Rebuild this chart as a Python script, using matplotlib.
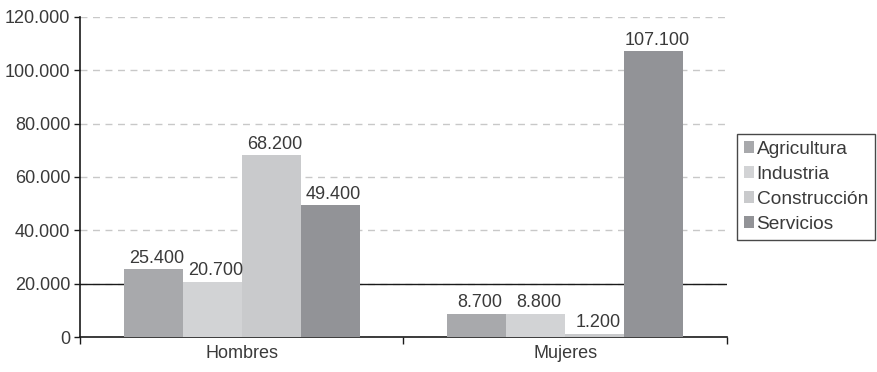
import matplotlib
matplotlib.use("Agg")
import matplotlib.pyplot as plt
import numpy as np

plt.rcParams["font.family"] = ["Liberation Sans", "DejaVu Sans"]

groups = ["Hombres", "Mujeres"]
sectors = ["Agricultura", "Industria", "Construcción", "Servicios"]
agricultura = [25400, 8700]
industria = [20700, 8800]
construccion = [68200, 1200]
servicios = [49400, 107100]
values = [agricultura, industria, construccion, servicios]
colors = ["#a8a9ac", "#d2d3d5", "#c9cacc", "#929397"]
yticks = [0, 20000, 40000, 60000, 80000, 100000, 120000]
ref_line = 20000

text_col = "#3a3a3a"


def fmt(v):
    return f"{v:,.0f}".replace(",", ".")


fig = plt.figure(figsize=(8.78, 3.72), dpi=100)
ax = fig.add_axes([80 / 878, 35 / 372, 647 / 878, 320 / 372])

x = np.arange(len(groups))
bw = 0.182
for i, (name, vals, c) in enumerate(zip(sectors, values, colors)):
    pos = x + (i - 1.5) * bw
    ax.bar(pos, vals, width=bw, color=c, label=name, zorder=3)
    for p, v in zip(pos, vals):
        ax.text(p + 0.01, v + 900, fmt(v), ha="center", va="bottom",
                fontsize=13, color=text_col, zorder=4)

ax.axhline(ref_line, color="#1a1a1a", lw=1.0, zorder=2)

ax.set_xlim(-0.5, 1.5)
ax.set_ylim(0, 120000)
ax.set_yticks(yticks)
ax.set_yticklabels([fmt(v) for v in yticks])
ax.yaxis.grid(True, ls=(0, (5, 4)), color="#c8c8c8", lw=1.0, zorder=0)
ax.set_axisbelow(True)

ax.set_xticks(x)
ax.set_xticklabels(groups)
ax.set_xticks([-0.5, 0.5, 1.5], minor=True)
ax.tick_params(axis="x", which="major", length=0, pad=6)
ax.tick_params(axis="x", which="minor", length=5, width=1, color="#1a1a1a")
ax.tick_params(axis="y", length=4, width=1, color="#1a1a1a", pad=3)
ax.tick_params(labelsize=13, labelcolor=text_col)

for s in ["top", "right"]:
    ax.spines[s].set_visible(False)
for s in ["left", "bottom"]:
    ax.spines[s].set_color("#1a1a1a")
    ax.spines[s].set_linewidth(1.2)

leg = ax.legend(loc="upper left", bbox_to_anchor=(737 / 878, 1 - 134 / 372),
                bbox_transform=fig.transFigure, fontsize=13.8, frameon=True,
                fancybox=False, edgecolor="#1a1a1a", handlelength=0.55,
                handleheight=0.55, handletextpad=0.12, labelspacing=0.42,
                borderpad=0.35, borderaxespad=0)
leg.get_frame().set_linewidth(1.0)
for t in leg.get_texts():
    t.set_color(text_col)

fig.savefig("out.png", dpi=100)
